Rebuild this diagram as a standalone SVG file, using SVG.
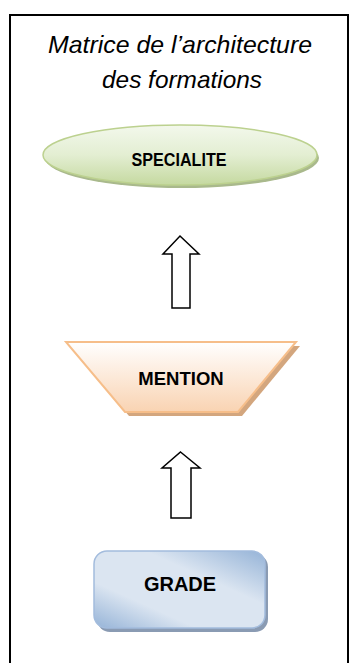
<svg xmlns="http://www.w3.org/2000/svg" width="350" height="663" viewBox="0 0 350 663">
<defs>
<style>
.title{font-family:"Liberation Sans",Arial,sans-serif;font-style:italic;font-size:24px;fill:#000;text-anchor:middle;}
.lbl{font-family:"Liberation Sans",Arial,sans-serif;font-weight:bold;fill:#000;text-anchor:middle;}
.arrow{fill:#fff;stroke:#000;stroke-width:1.5;stroke-linejoin:miter;}
</style>
<linearGradient id="gGreen" x1="0" y1="0" x2="0" y2="1">
<stop offset="0" stop-color="#f3f8ec"/>
<stop offset="0.5" stop-color="#e3eed2"/>
<stop offset="1" stop-color="#c5d9a0"/>
</linearGradient>
<linearGradient id="gOrange" x1="0" y1="0" x2="0" y2="1">
<stop offset="0" stop-color="#ffffff"/>
<stop offset="1" stop-color="#f9d3b2"/>
</linearGradient>
<linearGradient id="gBlue" x1="0" y1="1" x2="1" y2="0">
<stop offset="0" stop-color="#95b3d7"/>
<stop offset="0.3" stop-color="#dbe5f1"/>
<stop offset="0.65" stop-color="#dbe5f1"/>
<stop offset="1" stop-color="#95b3d7"/>
</linearGradient>
</defs>

<rect x="10" y="15" width="338" height="670" fill="#fff" stroke="#000" stroke-width="2"/>

<g id="title">
<text class="title" x="180" y="53" textLength="264" lengthAdjust="spacingAndGlyphs">Matrice de l’architecture</text>
<text class="title" x="182" y="88" textLength="160" lengthAdjust="spacingAndGlyphs">des formations</text>
</g>

<g id="specialite">
<ellipse cx="182" cy="158" rx="137" ry="30" fill="#a9b98c"/>
<ellipse cx="180" cy="155" rx="137" ry="30" fill="url(#gGreen)" stroke="#bcd18f" stroke-width="1.5"/>
<text class="lbl" x="179" y="166" font-size="17.5" textLength="95" lengthAdjust="spacingAndGlyphs">SPECIALITE</text>
</g>

<g id="mention">
<polygon points="70,346 300,346 242,416 129,416" fill="#d3a67e"/>
<polygon points="66,342 296,342 238,412 125,412" fill="url(#gOrange)" stroke="#f6be8a" stroke-width="2"/>
<text class="lbl" x="181" y="385" font-size="18.5">MENTION</text>
</g>

<g id="grade">
<rect x="97" y="554" width="171" height="78" rx="13" fill="#8a9bb3"/>
<rect x="94" y="551" width="171" height="77" rx="13" fill="url(#gBlue)" stroke="#a3bcdd" stroke-width="1.5"/>
<text class="lbl" x="180" y="591" font-size="20">GRADE</text>
</g>

<g id="connectors">
<polygon class="arrow" points="180,236 199,254 190,254 190,308 172,308 172,254 163,254"/>
<polygon class="arrow" points="180.5,452 200,468 191,468 191,518 171,518 171,468 162,468"/>
</g>
</svg>
